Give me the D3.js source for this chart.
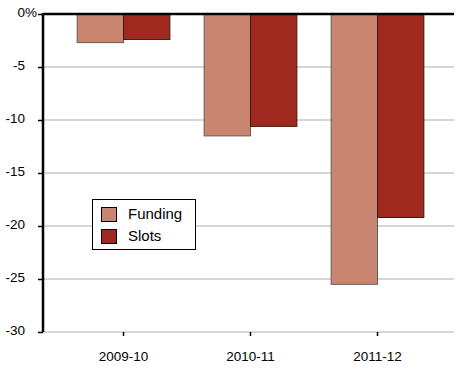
<!DOCTYPE html>
<html><head><meta charset="utf-8">
<script src="https://cdn.jsdelivr.net/npm/d3@7"></script>
<style>body{margin:0;background:#fff}svg{display:block;font-family:"Liberation Sans",Arial,Helvetica,sans-serif}</style>
</head><body>
<script>
const categories = ["2009-10", "2010-11", "2011-12"];
const seriesNames = ["Funding", "Slots"];
const funding = [-2.7, -11.5, -25.5];
const slots = [-2.4, -10.6, -19.2];
const yTicks = [0, -5, -10, -15, -20, -25, -30];
const yTickLabels = ["0", "-5", "-10", "-15", "-20", "-25", "-30"];
const colors = ["#C98570", "#A0291F"];
const strokes = ["#6b5a55", "#3a1a16"];

(function () {
const W = 466, H = 369;
const svg = d3.select("body").append("svg").attr("width", W).attr("height", H);
const mLeft = 43, mRight = 454, mTop = 14, mBottom = 332;

const y = d3.scaleLinear().domain([0, -30]).range([mTop, mBottom]);
const x = d3.scaleBand().domain(categories).range([60, 441]).paddingInner(0.27).paddingOuter(0.135);
const xs = d3.scaleBand().domain(seriesNames).range([0, x.bandwidth()]);

// gridlines
svg.append("g").selectAll("line").data(yTicks.filter(d => d !== 0)).join("line")
  .attr("x1", mLeft).attr("x2", mRight)
  .attr("y1", d => y(d)).attr("y2", d => y(d))
  .attr("stroke", "#c8c8c8").attr("stroke-width", 1.5);

// bars
const data = categories.map((c, i) => ({c, vals: [funding[i], slots[i]]}));
const g = svg.append("g");
data.forEach(d => {
  d.vals.forEach((v, j) => {
    g.append("rect")
      .attr("x", x(d.c) + xs(seriesNames[j]))
      .attr("y", y(0))
      .attr("width", xs.bandwidth())
      .attr("height", y(v) - y(0))
      .attr("fill", colors[j])
      .attr("stroke", strokes[j]).attr("stroke-width", 1);
  });
});

// y axis
const yAxis = d3.axisLeft(y).tickValues(yTicks).tickFormat((d, i) => yTickLabels[i]).tickSize(5).tickPadding(13);
const ya = svg.append("g").attr("transform", `translate(${mLeft},0)`).call(yAxis);
ya.select(".domain").remove();
ya.selectAll(".tick line").attr("stroke", "#000").attr("stroke-width", 1.5);
ya.selectAll("text").attr("font-size", 13.5).attr("fill", "#000").attr("dy", 2.5);
ya.selectAll(".tick").filter(d => d === 0).select("text")
  .attr("text-anchor", "start").attr("x", -26)
  .text(null).call(t => { t.append("tspan").text("0"); t.append("tspan").text("%"); });
ya.selectAll(".tick").filter(d => d === 0).select("text").attr("x", -26.5)
  .attr("transform", null);
// position "0%" so "0" ends where other numbers end
ya.selectAll(".tick").filter(d => d === 0).select("text").each(function () {
  const zero = this.firstChild.getComputedTextLength();
  d3.select(this).attr("x", -18 - zero);
});
svg.append("line").attr("x1", mLeft).attr("x2", mLeft).attr("y1", mTop - 1).attr("y2", mBottom)
  .attr("stroke", "#000").attr("stroke-width", 2.5);
svg.append("line").attr("x1", mLeft).attr("x2", mRight).attr("y1", y(0)).attr("y2", y(0))
  .attr("stroke", "#000").attr("stroke-width", 2.5);

// x axis
const xAxis = d3.axisBottom(x).tickSize(4).tickPadding(15);
const xa = svg.append("g").attr("transform", `translate(0,${mBottom})`).call(xAxis);
xa.select(".domain").remove();
xa.selectAll(".tick line").attr("stroke", "#000").attr("stroke-width", 1.5);
xa.selectAll("text").attr("font-size", 13.5).attr("fill", "#000");

// legend
const lg = svg.append("g");
lg.append("rect").attr("x", 92.5).attr("y", 199.5).attr("width", 103).attr("height", 50)
  .attr("fill", "#fff").attr("stroke", "#000").attr("stroke-width", 1);
seriesNames.forEach((n, i) => {
  lg.append("rect").attr("x", 101.5).attr("y", 207.5 + i * 22).attr("width", 15).attr("height", 14)
    .attr("fill", colors[i]).attr("stroke", "#000").attr("stroke-width", 1);
  lg.append("text").attr("x", 128).attr("y", 219 + i * 21.5).attr("font-size", 15).text(n);
});
})();
</script>
</body></html>
